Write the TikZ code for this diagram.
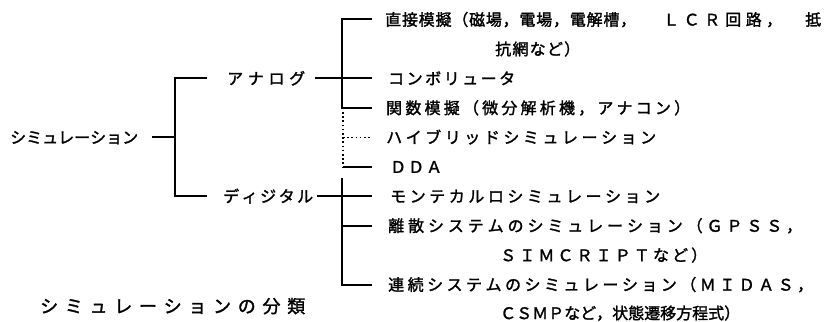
\documentclass[tikz,border=0pt]{standalone}
\usepackage{fontspec}
\newfontfamily\jp{Noto Sans CJK JP}[FakeBold=1.6]
\makeatletter
\newcommand\spr[2]{\makebox[#1][s]{\def\spsep{}\@tfor\spch:=#2\do{\spsep\spch\def\spsep{\hfill}}}}
\makeatother
\tikzset{
  txt/.style={inner sep=0pt, anchor=west, font=\jp\fontsize{16}{19}\selectfont, text height=14.08pt, text depth=1.92pt},
  captxt/.style={txt, font=\jp\fontsize{18}{21}\selectfont, text height=15.84pt, text depth=2.16pt},
  ln/.style={line width=2pt, line join=miter},
  dotln/.style={line width=1.6pt, dash pattern=on 1.6pt off 2.6pt}
}
\begin{document}
\begin{tikzpicture}[x=1pt,y=-1pt]
\useasboundingbox[fill=white] (0,0) rectangle (829,321);
% left texts
\node[txt] (sim) at (10,137.3) {\spr{128pt}{シミュレーション}};
\node[txt] (ana) at (227,78.4) {\spr{78pt}{アナログ}};
\node[txt] (dig) at (223,196.2) {\spr{90pt}{ディジタル}};
% right texts
\node[txt] (t0a) at (385,19.5) {\spr{251pt}{直接模擬（磁場，電場，電解槽，}};
\node[txt] (t0b) at (663,19.5) {\spr{57pt}{ＬＣＲ}};
\node[txt] (t0c) at (725,19.5) {\spr{57pt}{回路，}};
\node[txt] (t0d) at (805,19.5) {抵};
\node[txt] (t1) at (495,48.95) {\spr{85pt}{抗網など）}};
\node[txt] (t2) at (388,78.4) {\spr{127pt}{コンボリュータ}};
\node[txt] (t3) at (386,107.85) {\spr{304pt}{関数模擬（微分解析機，アナコン）}};
\node[txt] (t4) at (386,137.3) {\spr{270pt}{ハイブリッドシミュレーション}};
\node[txt] (t5) at (390,166.75) {\spr{52pt}{ＤＤＡ}};
\node[txt] (t6) at (390,196.2) {\spr{270pt}{モンテカルロシミュレーション}};
\node[txt] (t7) at (388,225.65) {\spr{414pt}{離散システムのシミュレーション（ＧＰＳＳ，}};
\node[txt] (t8) at (500,255.1) {\spr{207pt}{ＳＩＭＣＲＩＰＴなど）}};
\node[txt] (t9) at (388,284.55) {\spr{425pt}{連続システムのシミュレーション（ＭＩＤＡＳ，}};
\node[txt] (t10) at (500,313) {\spr{240pt}{ＣＳＭＰなど，状態遷移方程式）}};
\node[captxt] (cap) at (40,306) {\spr{265pt}{シミュレーションの分類}};
% junction coordinates
\coordinate (s0) at ([xshift=14pt]sim.east);
\coordinate (s1) at (175,137.3);
\coordinate (sa) at (175,78.4);
\coordinate (sae) at (207,78.4);
\coordinate (sd) at (175,196.2);
\coordinate (sde) at (207,196.2);
\coordinate (a0) at ([xshift=10pt]ana.east);
\coordinate (a1) at (372,78.4);
\coordinate (at) at (342,19.5);
\coordinate (atE) at (372,19.5);
\coordinate (ab) at (342,107.85);
\coordinate (abE) at (372,107.85);
\coordinate (h0) at (343,107.85);
\coordinate (h1) at (343,166.75);
\coordinate (hm) at (343,137.3);
\coordinate (hmE) at (370,137.3);
\coordinate (ddE) at (372,166.75);
\coordinate (d0) at ([xshift=4pt]dig.east);
\coordinate (d1) at (372,196.2);
\coordinate (dt) at (342,178);
\coordinate (dm) at (342,225.65);
\coordinate (dmE) at (372,225.65);
\coordinate (db) at (342,284.55);
\coordinate (dbE) at (372,284.55);
% connectors
\draw[ln] (s0) -- (s1);
\draw[ln] (sae) -- (sa) -- (sd) -- (sde);
\draw[ln] (a0) -- (a1);
\draw[ln] (atE) -- (at) -- (ab) -- (abE);
\draw[dotln] (h0) -- (h1);
\draw[dotln] (hm) -- (hmE);
\draw[ln] (h1) -- (ddE);
\draw[ln] (d0) -- (d1);
\draw[ln] (dt) -- (db) -- (dbE);
\draw[ln] (dm) -- (dmE);
\end{tikzpicture}
\end{document}
